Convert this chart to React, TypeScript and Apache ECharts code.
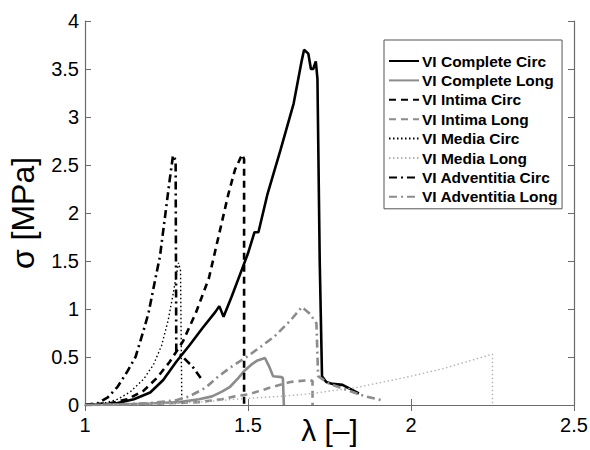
import React, { useEffect, useRef } from "react";
import * as echarts from "echarts";

const xTicks = [1, 1.5, 2, 2.5];
const yTicks = [0, 0.5, 1, 1.5, 2, 2.5, 3, 3.5, 4];

const completeCirc = [
  [1, 0], [1.05, 0.005], [1.1, 0.02], [1.15, 0.06], [1.2, 0.13], [1.24, 0.26], [1.28, 0.45],
  [1.32, 0.62], [1.36, 0.8], [1.4, 0.97], [1.412, 1.03], [1.425, 0.92], [1.45, 1.13],
  [1.48, 1.4], [1.5, 1.58], [1.52, 1.8], [1.532, 1.8], [1.56, 2.2], [1.6, 2.66],
  [1.62, 2.9], [1.64, 3.14], [1.665, 3.59], [1.672, 3.7], [1.685, 3.66], [1.693, 3.5],
  [1.7, 3.5], [1.708, 3.58], [1.713, 3.4], [1.72, 1.5], [1.727, 0.3], [1.74, 0.24],
  [1.76, 0.22], [1.79, 0.21], [1.84, 0.12],
];
const completeLong = [
  [1, 0], [1.1, 0.005], [1.2, 0.015], [1.29, 0.03], [1.35, 0.06], [1.39, 0.09],
  [1.42, 0.14], [1.445, 0.19], [1.47, 0.28], [1.49, 0.36], [1.51, 0.42], [1.527, 0.46],
  [1.552, 0.49], [1.565, 0.4], [1.577, 0.3], [1.603, 0.29], [1.607, 0.28], [1.61, 0],
];
const intimaCirc = [
  [1, 0], [1.08, 0.02], [1.13, 0.06], [1.18, 0.15], [1.22, 0.28], [1.26, 0.45], [1.3, 0.66],
  [1.34, 0.96], [1.38, 1.32], [1.41, 1.76], [1.44, 2.2], [1.46, 2.45], [1.482, 2.61],
  [1.488, 2.56], [1.488, 0],
];
const intimaLong = [
  [1, 0], [1.2, 0.01], [1.35, 0.03], [1.42, 0.06], [1.46, 0.09], [1.5, 0.11], [1.577, 0.19],
  [1.63, 0.24], [1.69, 0.26], [1.698, 0.25], [1.698, 0],
];
const mediaCirc = [
  [1, 0], [1.06, 0.02], [1.1, 0.06], [1.14, 0.14], [1.18, 0.27], [1.21, 0.42], [1.235, 0.62],
  [1.255, 0.88], [1.27, 1.15], [1.28, 1.35], [1.287, 1.48], [1.293, 1.4], [1.297, 0],
];
const mediaLong = [
  [1, 0], [1.2, 0.01], [1.35, 0.03], [1.5, 0.07], [1.6, 0.09], [1.7, 0.12], [1.76, 0.15],
  [1.83, 0.18], [2.0, 0.3], [2.1, 0.38], [2.25, 0.53], [2.25, 0],
];
const adventitiaCirc = [
  [1, 0], [1.04, 0.02], [1.07, 0.08], [1.1, 0.19], [1.13, 0.35], [1.155, 0.5], [1.18, 0.78],
  [1.195, 0.96], [1.215, 1.3], [1.23, 1.55], [1.245, 1.95], [1.26, 2.35], [1.27, 2.6],
  [1.278, 2.55], [1.28, 0.57], [1.3, 0.5], [1.33, 0.4], [1.355, 0.28],
];
const adventitiaLong = [
  [1, 0], [1.1, 0.005], [1.2, 0.02], [1.28, 0.05], [1.32, 0.09], [1.37, 0.18], [1.41, 0.3],
  [1.45, 0.4], [1.5, 0.51], [1.58, 0.71], [1.63, 0.88], [1.665, 1.02], [1.69, 0.95],
  [1.71, 0.85], [1.715, 0.3], [1.75, 0.22], [1.8, 0.16], [1.86, 0.09], [1.91, 0.05],
];

const names = [
  "VI Complete Circ", "VI Complete Long", "VI Intima Circ", "VI Intima Long",
  "VI Media Circ", "VI Media Long", "VI Adventitia Circ", "VI Adventitia Long",
];
const xTitle = "λ [–]";
const yTitle = "σ [MPa]";

const BLACK = "#000000";
const GRAY = "#8c8c8c";
const LIGHT = "#b4b4b4";
const DASH = [7, 5];
const DOT = [1.5, 2.5];
const DASHDOT = [8, 4, 2, 4];

export default function App() {
  const ref = useRef<HTMLDivElement>(null);
  useEffect(() => {
    const chart = echarts.init(ref.current!, undefined, { renderer: "svg" });
    const mk = (name: string, data: number[][], color: string, type: any, width: number) => ({
      name, type: "line", data, showSymbol: false, symbol: "none", z: 3,
      lineStyle: { color, type, width }, itemStyle: { color },
    });
    const font = "Liberation Sans, Arial, Helvetica, sans-serif";
    const axisCommon = {
      type: "value",
      axisLine: { show: true, lineStyle: { color: "#6a6a6a", width: 1.2 } },
      axisTick: { show: true, inside: true, length: 6, lineStyle: { color: "#6a6a6a" } },
      splitLine: { show: false },
    };
    chart.setOption({
      animation: false,
      grid: { left: 85, right: 16, top: 21, bottom: 45, outerBoundsMode: "none", containLabel: false },
      graphic: [
        {
          type: "text", x: 329.5, y: 430, z: 10,
          style: { text: xTitle, fontSize: 30, fontFamily: font, fill: "#000", textAlign: "center", textVerticalAlign: "middle" },
        },
      ],
      xAxis: [
        {
          ...axisCommon, min: 1, max: 2.5, interval: 0.5, position: "bottom",
          axisLabel: { color: "#000", fontSize: 20, fontFamily: font, margin: 10,
            formatter: (v: number) => (xTicks.includes(v) ? String(v) : "") },
        },
        { ...axisCommon, min: 1, max: 2.5, interval: 0.5, position: "top", axisLabel: { show: false } },
      ],
      yAxis: [
        {
          ...axisCommon, min: 0, max: 4, interval: 0.5, position: "left",
          axisLabel: { color: "#000", fontSize: 20, fontFamily: font, margin: 6,
            formatter: (v: number) => (yTicks.includes(v) ? String(v) : "") },
          name: yTitle, nameLocation: "middle", nameGap: 46,
          nameTextStyle: { fontSize: 32, color: "#000", fontFamily: font },
        },
        { ...axisCommon, min: 0, max: 4, interval: 0.5, position: "right", axisLabel: { show: false } },
      ],
      legend: {
        data: names, orient: "vertical", left: 384, top: 40,
        itemWidth: 30, itemHeight: 14, itemGap: 3.4, padding: [13, 4, 4, 4],
        borderColor: "#555", borderWidth: 1, backgroundColor: "#fff",
        itemStyle: { opacity: 0 },
        textStyle: { fontWeight: "bold", fontSize: 15.5, color: "#000", fontFamily: font, padding: [0, 0, 0, -2] },
      },
      series: [
        mk(names[0], completeCirc, BLACK, "solid", 2.6),
        mk(names[1], completeLong, GRAY, "solid", 2.6),
        mk(names[2], intimaCirc, BLACK, DASH, 2.6),
        mk(names[3], intimaLong, GRAY, DASH, 2.6),
        mk(names[4], mediaCirc, BLACK, DOT, 1.4),
        mk(names[5], mediaLong, LIGHT, DOT, 1.4),
        mk(names[6], adventitiaCirc, BLACK, DASHDOT, 2.6),
        mk(names[7], adventitiaLong, GRAY, DASHDOT, 2.6),
      ],
    });
    return () => chart.dispose();
  }, []);
  return <div ref={ref} style={{ width: 590, height: 450, position: "absolute", left: 0, top: 0 }} />;
}
